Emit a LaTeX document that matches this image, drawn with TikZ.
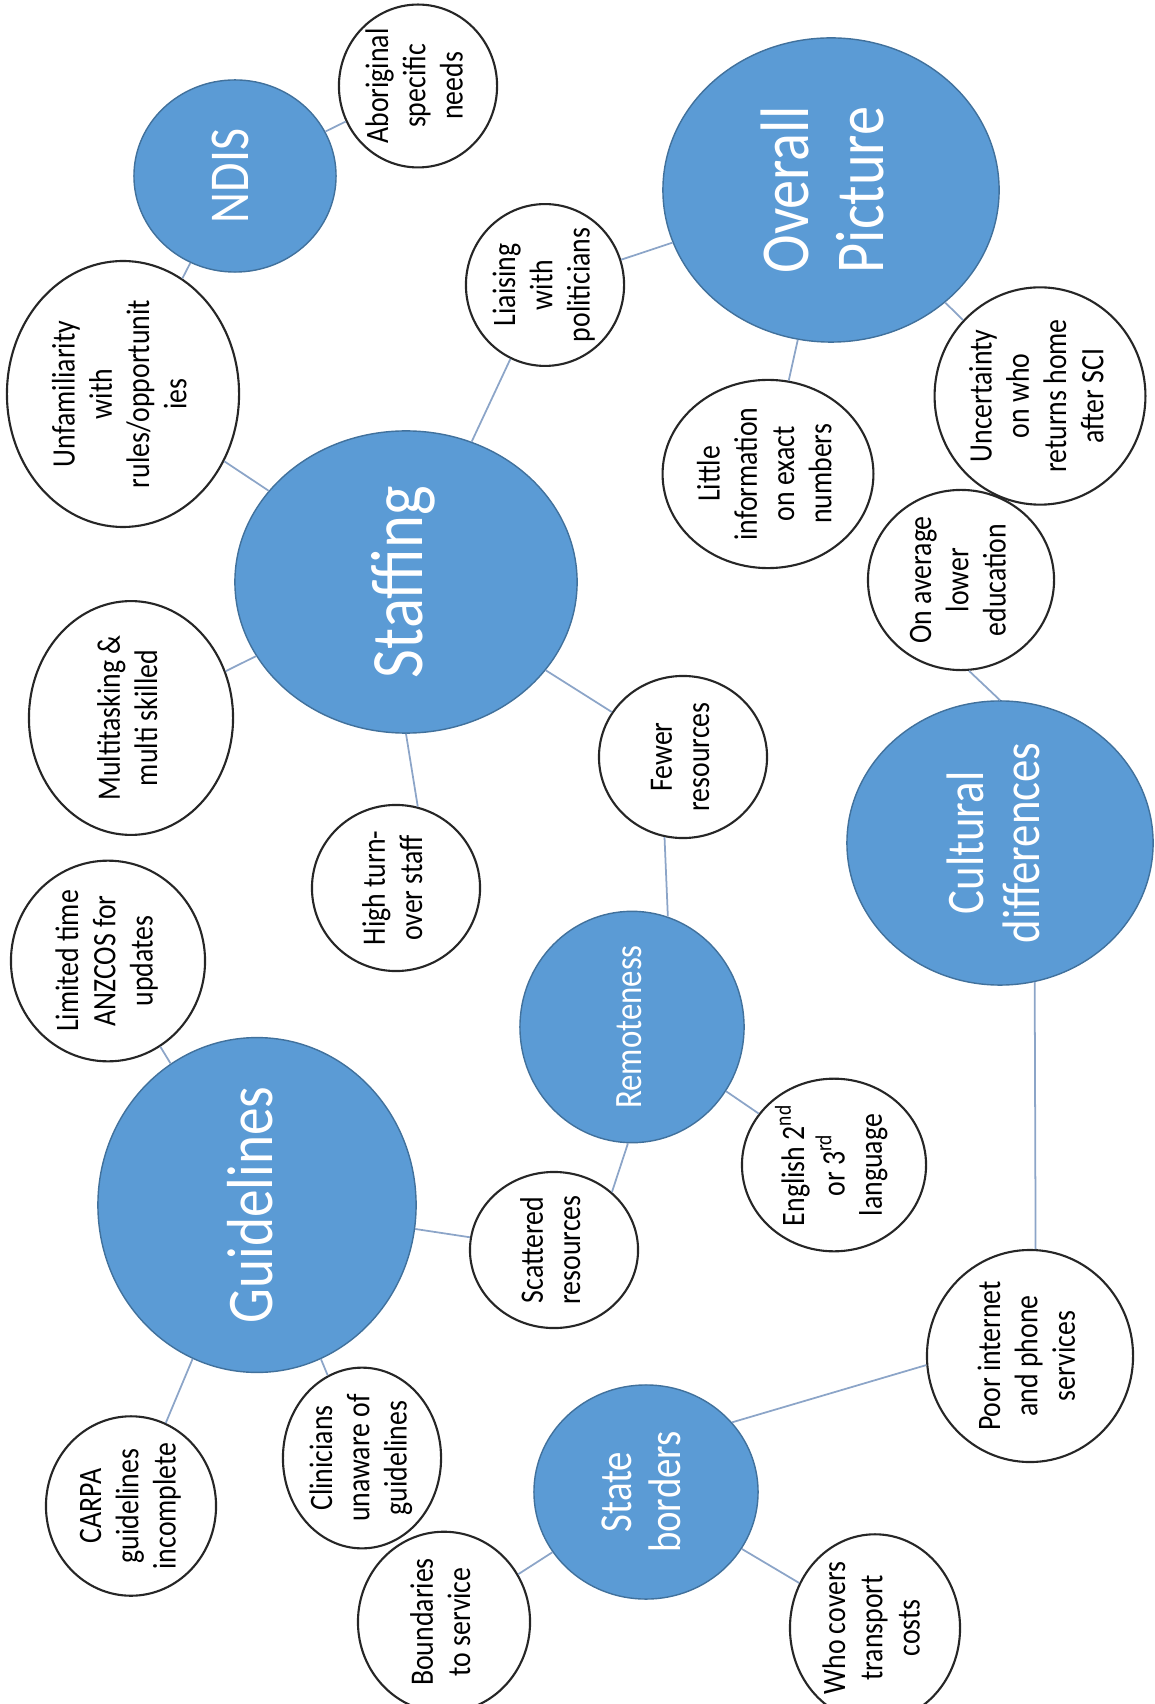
\documentclass[tikz,border=0pt]{standalone}
\usepackage{fontspec}
\setmainfont{Carlito}[FakeStretch=0.85]
\usetikzlibrary{shapes.geometric}
\definecolor{mapBlue}{RGB}{91,155,213}
\definecolor{mapEdge}{RGB}{65,113,156}
\definecolor{mapLine}{RGB}{140,165,200}
\newcommand{\vtext}[1]{\rotatebox{90}{\begin{tabular}{@{}c@{}}#1\end{tabular}}}
\tikzset{
  topic/.style={
    ellipse, fill=mapBlue, draw=mapEdge, line width=0.4pt,
    text=white, inner sep=0pt
  },
  subidea/.style={
    ellipse, fill=white, draw=black!85, line width=0.6pt,
    text=black, inner sep=0pt,
    font=\fontsize{9.3}{10.6}\selectfont
  },
  link/.style={draw=mapLine, line width=0.5pt}
}

\begin{document}
\begin{tikzpicture}[x=0.01cm, y=-0.01cm]
\useasboundingbox (0,0) rectangle (1154,1704);

%% MAIN TOPICS
\node[topic, minimum width=2.02cm, minimum height=1.92cm, font=\fontsize{16}{19}\selectfont] (ndis) at (235,176) {\vtext{NDIS}};
\node[topic, minimum width=3.36cm, minimum height=3.04cm, font=\fontsize{19.5}{21.5}\selectfont] (overall) at (831,190) {\vtext{Overall\\Picture}};
\node[topic, minimum width=3.42cm, minimum height=3.02cm, font=\fontsize{21}{24}\selectfont] (staffing) at (406,582) {\vtext{Staffing}};
\node[topic, minimum width=3.06cm, minimum height=2.76cm, font=\fontsize{15}{16}\selectfont] (cultural) at (1000,843) {\vtext{Cultural\\differences}};
\node[topic, minimum width=2.24cm, minimum height=2.12cm, font=\fontsize{11}{13}\selectfont] (remote) at (632,1027) {\vtext{Remoteness}};
\node[topic, minimum width=3.18cm, minimum height=2.92cm, font=\fontsize{18.5}{22}\selectfont] (guide) at (257,1205) {\vtext{Guidelines}};
\node[topic, minimum width=2.24cm, minimum height=2.14cm, font=\fontsize{13}{14}\selectfont] (state) at (646,1492) {\vtext{State\\borders}};

%% SUB IDEAS
\node[subidea, minimum width=1.58cm, minimum height=1.40cm] (aborig) at (418,86) {\vtext{Aboriginal\\specific\\needs}};
\node[subidea, minimum width=2.32cm, minimum height=2.10cm] (unfam) at (123,394) {\vtext{Unfamiliarity\\with\\rules/opportunit\\ies}};
\node[subidea, minimum width=1.56cm, minimum height=1.44cm] (liaise) at (545,285) {\vtext{Liaising\\with\\politicians}};
\node[subidea, minimum width=2.08cm, minimum height=1.74cm] (little) at (768,474) {\vtext{Little\\information\\on exact\\numbers}};
\node[subidea, minimum width=2.08cm, minimum height=1.74cm] (uncert) at (1040,396) {\vtext{Uncertainty\\on who\\returns home\\after SCI}};
\node[subidea, minimum width=2.04cm, minimum height=1.56cm] (multi) at (131,718) {\vtext{Multitasking \&\\multi skilled}};
\node[subidea, minimum width=1.86cm, minimum height=1.60cm] (lowedu) at (961,580) {\vtext{On average\\lower\\education}};
\node[subidea, minimum width=1.68cm, minimum height=1.62cm] (fewer) at (683,757) {\vtext{Fewer\\resources}};
\node[subidea, minimum width=1.68cm, minimum height=1.66cm] (turnover) at (396,888) {\vtext{High turn-\\over staff}};
\node[subidea, minimum width=1.94cm, minimum height=1.66cm] (anzcos) at (108,961) {\vtext{Limited time\\ANZCOS for\\updates}};
\node[subidea, minimum width=1.84cm, minimum height=1.64cm] (english) at (834,1165) {\vtext{English 2\textsuperscript{nd}\\or 3\textsuperscript{rd}\\language}};
\node[subidea, minimum width=1.68cm, minimum height=1.56cm] (scatter) at (554,1250) {\vtext{Scattered\\resources}};
\node[subidea, minimum width=2.06cm, minimum height=1.76cm] (internet) at (1030,1356) {\vtext{Poor internet\\and phone\\services}};
\node[subidea, minimum width=1.44cm, minimum height=1.40cm] (unaware) at (362,1458) {\vtext{Clinicians\\unaware of\\guidelines}};
\node[subidea, minimum width=1.70cm, minimum height=1.54cm] (carpa) at (131,1506) {\vtext{CARPA\\guidelines\\incomplete}};
\node[subidea, minimum width=1.72cm, minimum height=1.40cm] (bounds) at (444,1622) {\vtext{Boundaries\\to service}};
\node[subidea, minimum width=1.70cm, minimum height=1.52cm] (transport) at (875,1628) {\vtext{Who covers\\transport\\costs}};

%% LINKS
\draw[link] (ndis) -- (aborig);
\draw[link] (ndis) -- (unfam);
\draw[link] (unfam) -- (staffing);
\draw[link] (staffing) -- (liaise);
\draw[link] (liaise) -- (overall);
\draw[link] (overall) -- (little);
\draw[link] (overall) -- (uncert);
\draw[link] (staffing) -- (multi);
\draw[link] (staffing.270) -- (turnover.75);
\draw[link] (staffing) -- (fewer);
\draw[link] (fewer.257) -- (remote.72);
\draw[link] (remote.268) -- (scatter.45);
\draw[link] (remote) -- (english);
\draw[link] (scatter) -- (guide);
\draw[link] (guide) -- (anzcos);
\draw[link] (guide) -- (unaware);
\draw[link] (guide) -- (carpa);
\draw[link] (cultural.90) -- (lowedu.275);
\draw[link] (cultural.284) -- (internet.87);
\draw[link] (internet.185) -- (state.39);
\draw[link] (state) -- (bounds);
\draw[link] (state) -- (transport);

\end{tikzpicture}
\end{document}
